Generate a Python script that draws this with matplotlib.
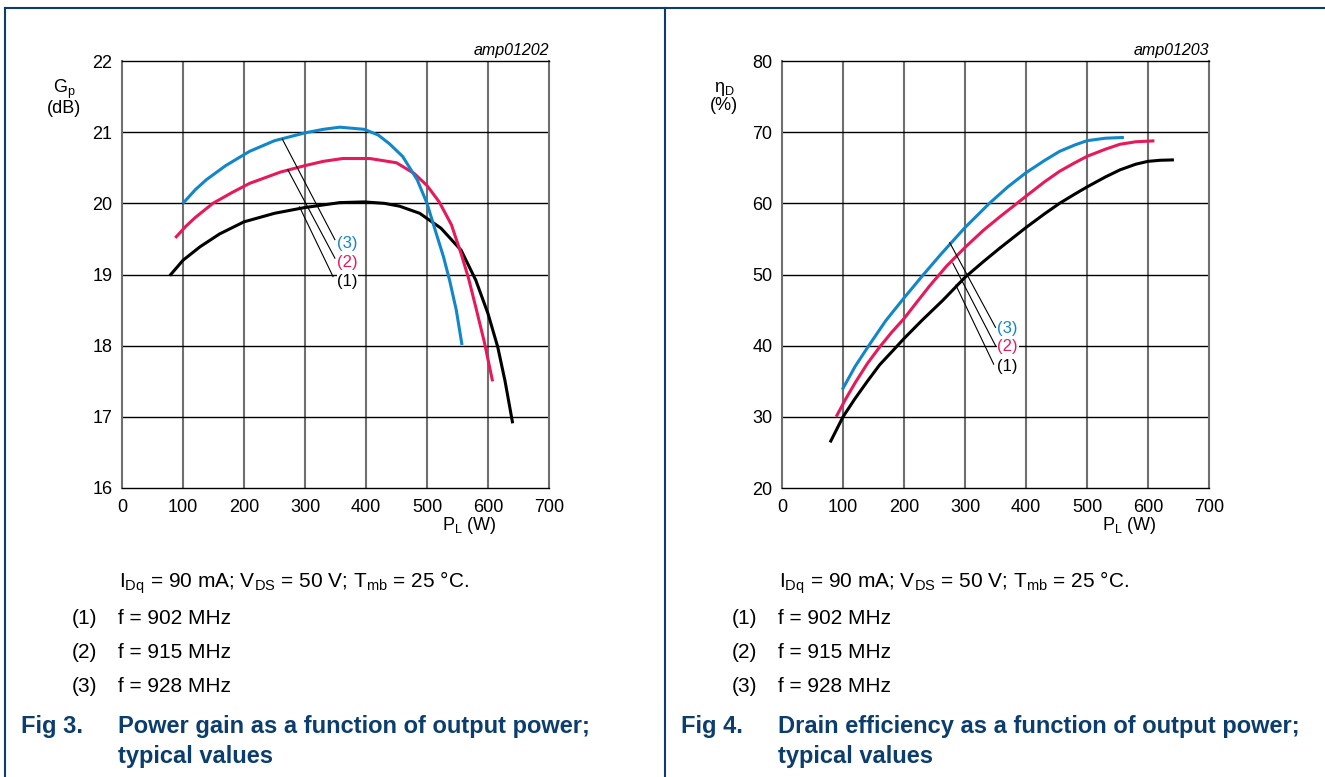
import matplotlib
matplotlib.use("Agg")
import matplotlib.pyplot as plt
from matplotlib.lines import Line2D

plt.rcParams['font.family'] = ['Liberation Sans', 'DejaVu Sans']
plt.rcParams['mathtext.default'] = 'regular'

# colours
BLUE = '#1187c9'
RED = '#e8195b'
BLACK = '#000000'
NAVY = '#0b3d6e'

# Fig 3: power gain (dB) vs output power (W)
gain_p3 = [101, 120, 138, 170, 209, 250, 300, 330, 357, 397, 420, 438, 460, 484, 500, 515, 527, 537, 548, 557]
gain_g3 = [20.01, 20.19, 20.33, 20.53, 20.73, 20.88, 20.99, 21.04, 21.07, 21.04, 20.96, 20.84, 20.66, 20.33,
           20.0, 19.58, 19.25, 18.92, 18.5, 18.03]
gain_p2 = [89, 105, 120, 149, 180, 209, 260, 300, 330, 362, 406, 450, 479, 500, 520, 540, 556, 568, 580, 594, 607]
gain_g2 = [19.53, 19.68, 19.80, 20.0, 20.15, 20.28, 20.44, 20.53, 20.59, 20.63, 20.63, 20.57, 20.42, 20.25,
           20.02, 19.7, 19.29, 18.95, 18.54, 18.05, 17.52]
gain_p1 = [80, 100, 128, 160, 200, 250, 299, 357, 397, 430, 455, 488, 523, 556, 580, 600, 616, 628, 640]
gain_g1 = [19.0, 19.2, 19.39, 19.57, 19.74, 19.86, 19.94, 20.01, 20.02, 20.0, 19.96, 19.86, 19.65, 19.34,
           18.92, 18.45, 17.98, 17.5, 16.93]

# Fig 4: drain efficiency (%) vs output power (W)
eff_p3 = [100, 120, 143, 170, 200, 231, 260, 300, 340, 370, 400, 430, 455, 480, 500, 530, 558]
eff_e3 = [34.0, 37.1, 40.1, 43.5, 46.7, 49.9, 52.8, 56.6, 60.0, 62.3, 64.3, 66.0, 67.3, 68.2, 68.8, 69.15, 69.25]
eff_p2 = [90, 105, 120, 140, 160, 180, 200, 220, 242, 270, 300, 330, 357, 400, 430, 455, 480, 500, 530, 554,
          580, 608]
eff_e2 = [30.2, 32.6, 34.8, 37.5, 39.8, 41.9, 43.8, 46.0, 48.4, 51.2, 53.8, 56.2, 58.1, 61.0, 63.0, 64.5, 65.7,
          66.6, 67.6, 68.3, 68.65, 68.77]
eff_p1 = [80, 100, 120, 140, 160, 185, 200, 230, 264, 300, 330, 357, 400, 430, 455, 480, 500, 530, 554, 580,
          600, 620, 640]
eff_e1 = [26.6, 30.0, 32.6, 35.0, 37.3, 39.6, 41.0, 43.6, 46.4, 49.6, 51.8, 53.7, 56.6, 58.5, 60.0, 61.3, 62.3,
          63.7, 64.7, 65.5, 65.9, 66.05, 66.1]

labels = ['(3)', '(2)', '(1)']
colors = [BLUE, RED, BLACK]
freqs = ['f = 902 MHz', 'f = 915 MHz', 'f = 928 MHz']

# leader lines: (start x, start y, end x, end y), label position
gain_leaders = [(263, 20.90, 349, 19.49), (272, 20.47, 349, 19.23), (291, 19.95, 346, 18.97)]
gain_label_x = 353
gain_label_y = [19.44, 19.17, 18.90]
eff_leaders = [(275, 54.47, 350, 42.57), (280, 51.6, 350, 40.0), (285, 48.5, 347, 37.4)]
eff_label_x = 353
eff_label_y = [42.43, 39.85, 37.13]

W, H = 1325, 777
fig = plt.figure(figsize=(W / 100, H / 100), dpi=100)


def px_x(x):
    return x / W


def px_y(y):
    return 1 - y / H


def setup_axes(left_px, ylim, yticks, ylabel, code):
    ax = fig.add_axes([px_x(left_px), px_y(488), 427 / W, 427 / H])
    ax.set_xlim(0, 700)
    ax.set_ylim(*ylim)
    ax.set_xticks(range(0, 701, 100))
    ax.set_yticks(yticks)
    ax.tick_params(length=0, labelsize=13, pad=7)
    ax.tick_params(axis='x', pad=8)
    for x in range(100, 700, 100):
        ax.axvline(x, color='#6f6f6f', lw=1.5, zorder=1)
    for y in yticks[1:-1]:
        ax.axhline(y, color='black', lw=1.0, zorder=1)
    for s in ['left', 'right']:
        ax.spines[s].set_color('#6f6f6f')
        ax.spines[s].set_linewidth(1.5)
    for s in ['top', 'bottom']:
        ax.spines[s].set_linewidth(1.0)
    ax.text(700, 1.006, code, transform=ax.get_xaxis_transform(), ha='right', va='bottom',
            fontsize=11.5, style='italic')
    ax.text(-0.135, 0.915, ylabel, transform=ax.transAxes, ha='center', va='center',
            fontsize=13, linespacing=0.95)
    ax.text(569, -0.087, 'P$_L$ (W)', transform=ax.get_xaxis_transform(), ha='center', va='center',
            fontsize=13)
    return ax


ax1 = setup_axes(122, (16, 22), list(range(16, 23)), 'G$_p$\n(dB)', 'amp01202')
ax2 = setup_axes(782, (20, 80), list(range(20, 81, 10)), 'η$_D$\n(%)', 'amp01203')

for p, v, c in [(gain_p1, gain_g1, BLACK), (gain_p2, gain_g2, RED), (gain_p3, gain_g3, BLUE)]:
    ax1.plot(p, v, color=c, lw=2.2, zorder=3, solid_joinstyle='round')
for p, v, c in [(eff_p1, eff_e1, BLACK), (eff_p2, eff_e2, RED), (eff_p3, eff_e3, BLUE)]:
    ax2.plot(p, v, color=c, lw=2.2, zorder=3, solid_joinstyle='round')

for ax, leaders, lx, lys in [(ax1, gain_leaders, gain_label_x, gain_label_y),
                             (ax2, eff_leaders, eff_label_x, eff_label_y)]:
    for (x0, y0, x1, y1), lab, c, ly in zip(leaders, labels, colors, lys):
        ax.plot([x0, x1], [y0, y1], color='black', lw=0.8, zorder=4)
        ax.text(lx, ly, lab, color=c, fontsize=12, ha='left', va='center', zorder=5,
                bbox=dict(facecolor='white', edgecolor='none', pad=0.5))

# notes and captions below each chart
for off, num, title in [(0, 'Fig 3.', 'Power gain as a function of output power;'),
                        (660, 'Fig 4.', 'Drain efficiency as a function of output power;')]:
    fig.text(px_x(off + 119), px_y(583), 'I$_{Dq}$ = 90 mA; V$_{DS}$ = 50 V; T$_{mb}$ = 25 °C.',
             fontsize=15, va='center')
    for i, f in enumerate(freqs):
        y = 618 + i * 34.5
        fig.text(px_x(off + 72), px_y(y), '(%d)' % (i + 1), fontsize=15, va='center')
        fig.text(px_x(off + 118), px_y(y), f, fontsize=15, va='center')
    fig.text(px_x(off + 21), px_y(727), num, fontsize=17, weight='bold', color=NAVY, va='center')
    fig.text(px_x(off + 118), px_y(727), title, fontsize=17, weight='bold', color=NAVY, va='center')
    fig.text(px_x(off + 118), px_y(756), 'typical values', fontsize=17, weight='bold', color=NAVY,
             va='center')

# page frame lines
fig.add_artist(Line2D([px_x(5), 1], [px_y(8), px_y(8)], color=NAVY, lw=1.5))
fig.add_artist(Line2D([px_x(5), px_x(5)], [0, px_y(8)], color=NAVY, lw=1.5))
fig.add_artist(Line2D([px_x(665), px_x(665)], [0, px_y(8)], color=NAVY, lw=1.5))

fig.savefig('out.png', dpi=100)
